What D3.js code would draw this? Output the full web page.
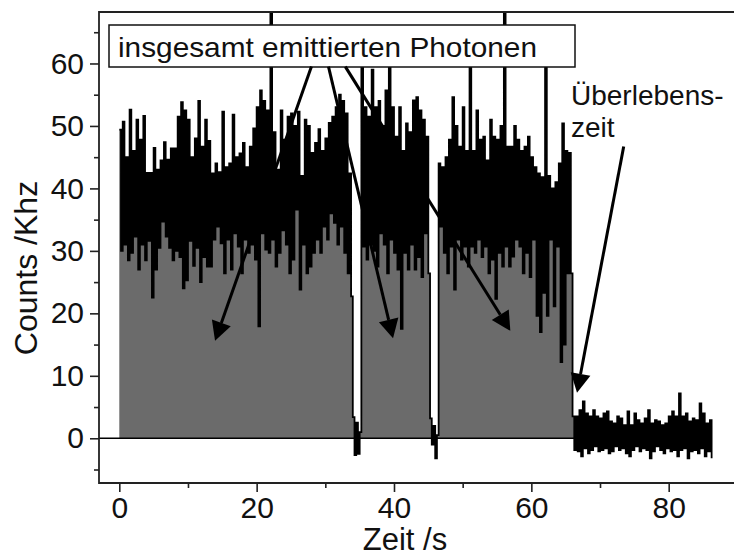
<!DOCTYPE html>
<html>
<head>
<meta charset="utf-8">
<script src="https://cdn.jsdelivr.net/npm/d3@7"></script>
<style>
  body { margin: 0; background: #fff; }
  svg text { font-family: "Liberation Sans", Arial, sans-serif; fill: #111; }
</style>
</head>
<body>
<svg id="chart" width="734" height="556"></svg>
<script>
// count rate in kHz; one value every 0.25 s (peak, dip, peak, dip ...)
var seg1 = [49.4,30, 50.7,31, 45,28.5, 52.6,29.7, 46,32.3, 51,27, 47.8,31, 51.6,28.5, 42.5,31.6, 42.5,22.5,
            46.5,27, 43,30.5, 44.5,34.7, 47.4,32.3, 44.6,30.5, 46.4,28.5, 46.4,30, 51.5,29, 53.8,24, 52.5,25.3,
            51,31.6, 45,27.6, 48,30.5, 54,25, 46.7,29, 51,27.5, 47.6,27.5, 42.4,31.8, 44,33.9, 42.6,31.2,
            52.3,26.4, 43.4,31.8, 44,27, 51.8,32.8, 45,30.7, 45.6,26.4, 47.3,31.8, 43.4,29.7, 46.7,31, 49.6,28.6,
            53,17.9, 55.7,32.8, 54,30.2, 52.5,29.7, 70,31.8, 49,27.5, 43,29.7, 52.5,33.3, 47.8,31, 51.5,26.4,
            52,28.6, 50,36.6, 52.3,23.8, 42,31, 51,26.4, 50,27.5, 45.7,29.7, 47.3,31.8, 49.5,29.7, 46,33.9,
            48,31.8, 50.5,36, 51.5,34.5, 53,31, 55,33.9, 54,29.7, 52,26.4, 42.4,22.7];
var gap1 = [3.4,-2.7, 2.5,-2.5, 1.0];
var seg2 = [62,30.7, 53,28.6, 51.5,31, 59,30, 53,27.5, 54,32.8, 50,31, 55.7,26.4, 59.5,31.8, 53,29.7,
            48.3,27, 53,17.5, 46,29.7, 50.4,27, 49,31, 54.1,27, 54.6,29, 52.5,25.8, 51,32.8, 48.3,26.4];
var gap2 = [3.2,-1.0, 2.0,-3.2, 0.5];
var seg3 = [44,33.9, 43.4,29.7, 45,26.4, 47.8,30.7, 54.6,23.8, 50,31.8, 46.7,28.6, 53,30.7, 46,27.5, 63,30.7,
            46,29.7, 52.5,31.8, 47.8,29, 48.3,30.7, 44.5,26.4, 51,28.6, 48.3,22.3, 47.8,29.7, 50,27.5, 70,30.7,
            46.7,27.5, 46.7,29.1, 50,31.8, 47.8,30.7, 46,26.4, 46.7,29.7, 48.3,25.8, 45,31.8, 43.4,19.6, 42.4,17,
            41.8,23.3, 63,19.6, 42,31.8, 40,21.1, 41,30.7, 44,12.2, 50.4,15, 46,26.4, 45.7,26.4];
var tail = [3.5,-1.9, 3.5,-2.1, 4.5,-2.9, 5.9,-1.6, 4.0,-2.4, 3.5,-1.9, 4.5,-1.3, 3.5,-2.1, 3.2,-1.9, 4.0,-1.6,
            4.3,-2.4, 2.7,-2.1, 2.4,-1.3, 3.5,-1.9, 3.2,-1.6, 2.1,-2.4, 4.3,-2.9, 2.1,-1.9, 4.0,-1.3, 2.9,-2.1,
            2.4,-1.6, 3.2,-1.9, 4.5,-3.2, 2.4,-2.1, 2.9,-1.3, 2.7,-1.9, 2.1,-2.4, 2.4,-1.6, 3.5,-2.1, 4.3,-1.9,
            3.5,-2.9, 7.2,-1.9, 3.5,-1.6, 4.0,-3.2, 2.7,-2.1, 3.2,-1.9, 2.9,-2.4, 5.6,-1.6, 4.0,-2.9, 2.4,-2.1,
            2.9,-3.2];
var segStart = [0, 34.0, 35.25, 45.25, 46.5, 66.0];
var step = 0.25;

var xMajor = [0, 20, 40, 60, 80];
var xMinor = [10, 30, 50, 70];
var yMajor = [0, 10, 20, 30, 40, 50, 60];
var yMinor = [-5, 5, 15, 25, 35, 45, 55, 65];

// annotation arrows, in data units [t, kHz]
var arrowFrom = [[27.98, 59.5], [30.46, 59.5], [32.91, 59.5], [73.45, 46.7]];
var arrowTo   = [[13.94, 15.6], [39.86, 16.0], [56.94, 17.2], [66.65, 7.3]];

var svg = d3.select("#chart");
var pL = 99, pR = 734, pT = 12, pB = 483;

var x = d3.scaleLinear().domain([-2.956, 89.51]).range([pL, pR]);
var y = d3.scaleLinear().domain([-7.16, 68.24]).range([pB, pT]);

var pts = [];
[seg1, gap1, seg2, gap2, seg3, tail].forEach(function(vals, s) {
  vals.forEach(function(v, i) { pts.push({t: segStart[s] + i * step, v: v}); });
});

svg.append("clipPath").attr("id", "plot")
  .append("rect").attr("x", pL).attr("y", pT).attr("width", pR - pL).attr("height", pB - pT);

var g = svg.append("g").attr("clip-path", "url(#plot)");

g.append("path")
  .datum(pts)
  .attr("fill", "#6b6b6b")
  .attr("d", d3.area().curve(d3.curveStepAfter)
    .x(function(d) { return x(d.t); })
    .y0(y(0))
    .y1(function(d) { return y(d.v); }));

g.append("line")
  .attr("x1", pL).attr("x2", x(pts[pts.length - 1].t))
  .attr("y1", y(0)).attr("y2", y(0))
  .attr("stroke", "#000").attr("stroke-width", 1.5);

g.append("path")
  .datum(pts)
  .attr("fill", "none")
  .attr("stroke", "#000")
  .attr("stroke-width", 1.8)
  .attr("d", d3.line().curve(d3.curveStepAfter)
    .x(function(d) { return x(d.t); })
    .y(function(d) { return y(d.v); }));

// frame
svg.append("path")
  .attr("d", "M" + pR + "," + pT + "H" + pL + "V" + pB + "H" + pR)
  .attr("fill", "none").attr("stroke", "#222").attr("stroke-width", 1.8);

// axes
function styleAxis(sel) {
  sel.select(".domain").remove();
  sel.selectAll("line").attr("stroke", "#222").attr("stroke-width", 1.6);
  sel.selectAll("text").attr("font-size", 30).attr("fill", "#111")
    .attr("font-family", "'Liberation Sans', Arial, sans-serif");
}
svg.append("g").attr("transform", "translate(" + pL + ",0)")
  .call(d3.axisLeft(y).tickValues(yMajor).tickSize(9).tickPadding(6)).call(styleAxis);
svg.append("g").attr("transform", "translate(" + pL + ",0)")
  .call(d3.axisLeft(y).tickValues(yMinor).tickSize(5).tickFormat("")).call(styleAxis);
svg.append("g").attr("transform", "translate(0," + pB + ")")
  .call(d3.axisBottom(x).tickValues(xMajor).tickSize(9).tickPadding(5)).call(styleAxis);
svg.append("g").attr("transform", "translate(0," + pB + ")")
  .call(d3.axisBottom(x).tickValues(xMinor).tickSize(5).tickFormat("")).call(styleAxis);

svg.append("text")
  .attr("transform", "translate(37,268) rotate(-90)")
  .attr("text-anchor", "middle").attr("font-size", 32)
  .text("Counts /Khz");
svg.append("text")
  .attr("x", 405).attr("y", 550)
  .attr("text-anchor", "middle").attr("font-size", 31)
  .text("Zeit /s");

// label box
svg.append("rect")
  .attr("x", 109).attr("y", 25).attr("width", 466).attr("height", 42)
  .attr("fill", "#fff").attr("stroke", "#111").attr("stroke-width", 1.5);
svg.append("text")
  .attr("x", 118).attr("y", 57).attr("font-size", 28)
  .attr("textLength", 419).attr("lengthAdjust", "spacingAndGlyphs")
  .text("insgesamt emittierten Photonen");

svg.append("text").attr("x", 571).attr("y", 105).attr("font-size", 28).text("Überlebens-");
svg.append("text").attr("x", 571).attr("y", 137).attr("font-size", 28).text("zeit");

// arrows
var headLen = 19, headW = 10;
arrowFrom.forEach(function(a, i) {
  var x1 = x(a[0]), y1 = y(a[1]), x2 = x(arrowTo[i][0]), y2 = y(arrowTo[i][1]);
  var dx = x2 - x1, dy = y2 - y1, len = Math.sqrt(dx * dx + dy * dy);
  var ux = dx / len, uy = dy / len;
  var bx = x2 - ux * headLen, by = y2 - uy * headLen;
  svg.append("line")
    .attr("x1", x1).attr("y1", y1).attr("x2", bx).attr("y2", by)
    .attr("stroke", "#000").attr("stroke-width", 3);
  svg.append("polygon")
    .attr("points", [[x2, y2], [bx - uy * headW, by + ux * headW], [bx + uy * headW, by - ux * headW]].join(" "))
    .attr("fill", "#000");
});
</script>
</body>
</html>
